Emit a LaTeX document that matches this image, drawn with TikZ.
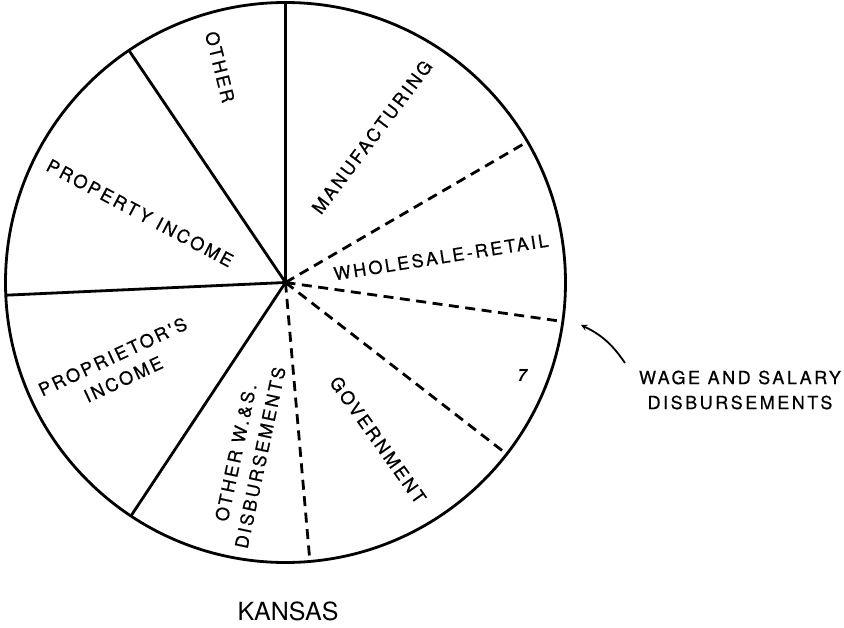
\documentclass[tikz,border=0pt]{standalone}
\usepackage{fontspec}
\setmainfont{TeX Gyre Heros}
\newfontfamily\piefont[LetterSpace=14, FakeBold=0.6]{TeX Gyre Heros}
\usetikzlibrary{arrows, positioning, calc}

\begin{document}
\begin{tikzpicture}[x=1pt, y=1pt,
            solidcut/.style={line width=2.8pt},
            wagecut/.style={line width=2.8pt, dash pattern=on 10pt off 6.5pt},
            sector/.style={font=\piefont\fontsize{18}{25}\selectfont, align=center, inner sep=0pt},
            arrow/.style={->, line width=1.8pt, >=stealth}
        ]
\useasboundingbox (-285.5,-344.5) rectangle (558.5,282.5);

% Pie outline
            \coordinate (centre) at (0,0);
            \draw[solidcut] (centre) circle (280);

% Solid cuts
            \coordinate (p90) at (90:280);
            \coordinate (p124) at (124:280);
            \coordinate (p183) at (182.6:280);
            \coordinate (p236) at (236.5:280);
            \draw[solidcut] (centre) -- (p90);
            \draw[solidcut] (centre) -- (p124);
            \draw[solidcut] (centre) -- (p183);
            \draw[solidcut] (centre) -- (p236);

% Wage and salary cuts
            \coordinate (d275) at (275:280);
            \coordinate (d322) at (322.2:280);
            \coordinate (d352) at (352:280);
            \coordinate (d30) at (30.2:280);
            \draw[wagecut] (centre) -- (d275);
            \draw[wagecut] (centre) -- (d322);
            \draw[wagecut] (centre) -- (d352);
            \draw[wagecut] (centre) -- (d30);

% Sector labels
            \node[sector, rotate=-76] (other) at (-65.5,215.5) {OTHER};
            \node[sector, rotate=53] (manuf) at (86.5,145.5) {MANUFACTURING};
            \node[sector, rotate=9] (retail) at (155.5,25.5) {WHOLESALE-RETAIL};
            \node[sector, rotate=-28] (property) at (-145.5,69.5) {PROPERTY INCOME};
            \node[sector, rotate=25] (proprietor) at (-167.5,-85.5) {PROPRIETOR'S\\INCOME};
            \node[sector, rotate=78] (otherws) at (-37.5,-172.5) {OTHER W.\&S.\\DISBURSEMENTS};
            \node[sector, rotate=-54.5] (govt) at (92.5,-157.5) {GOVERNMENT};
            \node[font=\bfseries\itshape\fontsize{17}{20}\selectfont] (seven) at (236.5,-92.5) {7};

% Wage and salary note
            \node[sector] (wage) at (454.5,-107.5) {WAGE AND SALARY\\DISBURSEMENTS};
            \coordinate (tail) at (339.5,-80.5);
            \coordinate (tip) at (295.5,-42.5);
            \draw[arrow] (tail) to[bend right=15] (tip);

            \node[font=\fontsize{25}{30}\selectfont] (state) at (2.5,-328.5) {KANSAS};

        \end{tikzpicture}
\end{document}
